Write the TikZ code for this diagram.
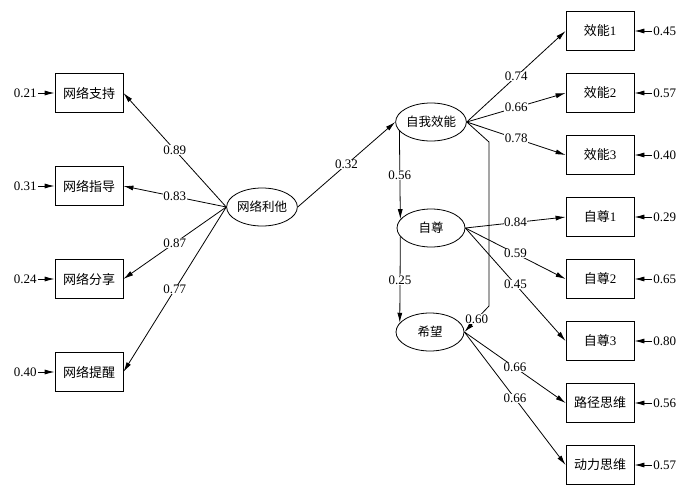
\documentclass[tikz,border=0pt]{standalone}
\usepackage{fontspec}
\setmainfont{Liberation Serif}
\newfontfamily\cjk{Noto Sans CJK SC}
\usetikzlibrary{arrows.meta,shapes.geometric}
\tikzset{
    every picture/.style={
        line width=0.8pt
    },
    % Style for observed indicators
    item box/.style={
        draw,
        rectangle,
        minimum width=68pt,
        minimum height=39pt,
        inner sep=0pt,
        font=\fontsize{13}{15}\selectfont\cjk
    },
    % Style for latent factors
    factor ell/.style={
        draw,
        ellipse,
        minimum width=68pt,
        minimum height=38pt,
        inner sep=0pt,
        font=\fontsize{12.5}{14}\selectfont\cjk
    },
    % Path arrows
    path arrow/.style={
        -{Latex[length=10pt,width=5pt]}
    },
    % Loadings on the paths
    path label/.style={
        midway,
        fill=white,
        inner sep=0.5pt,
        font=\fontsize{13}{15}\selectfont
    },
    % Error terms
    err label/.style={
        inner sep=1pt,
        font=\fontsize{13}{15}\selectfont
    }
}

\begin{document}
\begin{tikzpicture}[x=1pt,y=-1pt]

% Set the canvas size
\useasboundingbox (0,0) rectangle (700,495);

% Left indicators
\node[item box] (ns) at (89,93) {网络支持};
\node[item box] (ng) at (89,186) {网络指导};
\node[item box] (nf) at (89,279) {网络分享};
\node[item box] (nt) at (89,372) {网络提醒};

\node[err label, anchor=east] (ens) at (38,93) {0.21};
\node[err label, anchor=east] (eng) at (38,186) {0.31};
\node[err label, anchor=east] (enf) at (38,279) {0.24};
\node[err label, anchor=east] (ent) at (38,372) {0.40};

\draw[path arrow] (ens.east) -- (ns.west);
\draw[path arrow] (eng.east) -- (ng.west);
\draw[path arrow] (enf.east) -- (nf.west);
\draw[path arrow] (ent.east) -- (nt.west);

% Latent factors
\node[factor ell] (wl) at (262,207) {网络利他};
\node[factor ell] (zw) at (431,122) {自我效能};
\node[factor ell] (zz) at (431,228) {自尊};
\node[factor ell] (xw) at (430,332) {希望};

% Right indicators
\node[item box] (x1) at (600,31) {效能{\rmfamily 1}};
\node[item box] (x2) at (600,93) {效能{\rmfamily 2}};
\node[item box] (x3) at (600,155) {效能{\rmfamily 3}};
\node[item box] (z1) at (600,217) {自尊{\rmfamily 1}};
\node[item box] (z2) at (600,279) {自尊{\rmfamily 2}};
\node[item box] (z3) at (600,341) {自尊{\rmfamily 3}};
\node[item box] (lj) at (600,403) {路径思维};
\node[item box] (dl) at (600,465) {动力思维};

\node[err label, anchor=west] (ex1) at (652,31) {0.45};
\node[err label, anchor=west] (ex2) at (652,93) {0.57};
\node[err label, anchor=west] (ex3) at (652,155) {0.40};
\node[err label, anchor=west] (ez1) at (652,217) {0.29};
\node[err label, anchor=west] (ez2) at (652,279) {0.65};
\node[err label, anchor=west] (ez3) at (652,341) {0.80};
\node[err label, anchor=west] (elj) at (652,403) {0.56};
\node[err label, anchor=west] (edl) at (652,465) {0.57};

\draw[path arrow] (ex1.west) -- (x1.east);
\draw[path arrow] (ex2.west) -- (x2.east);
\draw[path arrow] (ex3.west) -- (x3.east);
\draw[path arrow] (ez1.west) -- (z1.east);
\draw[path arrow] (ez2.west) -- (z2.east);
\draw[path arrow] (ez3.west) -- (z3.east);
\draw[path arrow] (elj.west) -- (lj.east);
\draw[path arrow] (edl.west) -- (dl.east);

% Loadings of the left factor
\draw[path arrow] (wl.west) -- (ns.east) node[path label] {0.89};
\draw[path arrow] (wl.west) -- (ng.east) node[path label] {0.83};
\draw[path arrow] (wl.west) -- (nf.east) node[path label] {0.87};
\draw[path arrow] (wl.west) -- (nt.east) node[path label] {0.77};

% Structural paths
\draw[path arrow] (wl.east) -- (zw.west) node[path label] {0.32};
\draw[path arrow] (zw.196) -- (zz.164) node[path label] {0.56};
\draw[path arrow] (zz.196) -- (xw.163) node[path label] {0.25};

\coordinate (b1) at (489,142);
\coordinate (b2) at (489,306);
\draw[path arrow] (zw.east) -- (b1) -- (b2) -- (xw.east) node[path label] {0.60};

% Loadings of the right factors
\draw[path arrow] (zw.east) -- (x1.west) node[path label] {0.74};
\draw[path arrow] (zw.east) -- (x2.west) node[path label] {0.66};
\draw[path arrow] (zw.east) -- (x3.west) node[path label] {0.78};
\draw[path arrow] (zz.east) -- (z1.west) node[path label] {0.84};
\draw[path arrow] (zz.east) -- (z2.west) node[path label] {0.59};
\draw[path arrow] (zz.east) -- (z3.west) node[path label] {0.45};
\draw[path arrow] (xw.east) -- (lj.west) node[path label] {0.66};
\draw[path arrow] (xw.east) -- (dl.west) node[path label] {0.66};

\end{tikzpicture}
\end{document}
